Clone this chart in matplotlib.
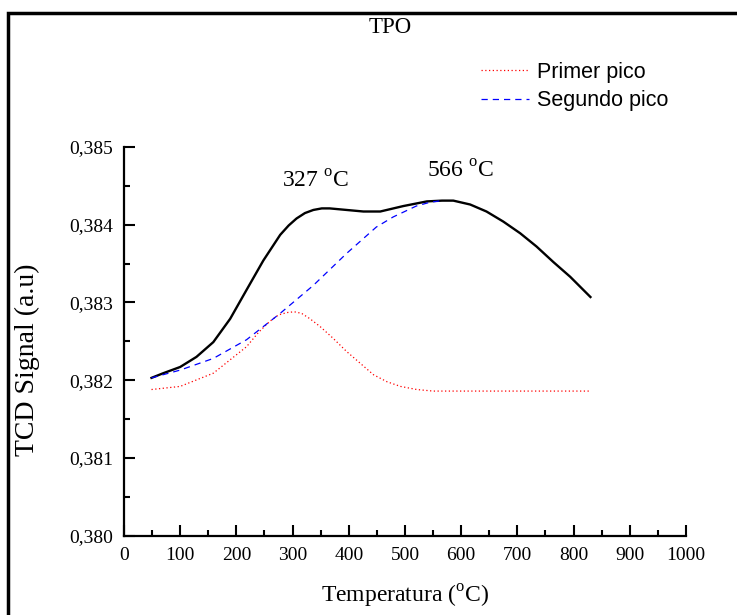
import numpy as np
import matplotlib.pyplot as plt
from matplotlib.patches import Rectangle

plt.rcParams['font.family'] = 'Liberation Serif'
plt.rcParams['mathtext.fontset'] = 'custom'
plt.rcParams['mathtext.rm'] = 'Liberation Serif'

temp_total = [49, 70, 100, 129, 159, 189, 218, 248, 278, 293, 307, 322, 337,
              352, 366, 381, 396, 426, 456, 497, 539, 566, 586, 616, 645, 675,
              705, 734, 764, 794, 830]
tcd_total = [0.38203, 0.38209, 0.38217, 0.38230, 0.38249, 0.38279, 0.38316,
             0.38354, 0.38387, 0.38399, 0.38408, 0.38415, 0.38419, 0.38421,
             0.38421, 0.38420, 0.38419, 0.38417, 0.38417, 0.38424, 0.38430,
             0.38431, 0.38431, 0.38426, 0.38417, 0.38404, 0.38389, 0.38372,
             0.38352, 0.38333, 0.38307]

temp_pico1 = [49, 100, 159, 218, 240, 260, 275, 290, 303, 316, 331, 349, 372,
              396, 420, 444, 468, 492, 521, 550, 829]
tcd_pico1 = [0.38188, 0.38192, 0.38209, 0.38243, 0.38262, 0.38276, 0.38284,
             0.38287, 0.38288, 0.38286, 0.38279, 0.38269, 0.38254, 0.38237,
             0.38222, 0.38207, 0.38198, 0.38192, 0.38188, 0.38186, 0.38186]

temp_pico2 = [49, 100, 159, 218, 278, 337, 396, 449, 479, 520, 545, 566]
tcd_pico2 = [0.38203, 0.38213, 0.38228, 0.38252, 0.38286, 0.38322, 0.38363,
             0.38397, 0.38410, 0.38424, 0.38429, 0.38431]

picos = [327, 566]
pico_pos = [(340, 0.38456), (598, 0.38468)]

fig = plt.figure(figsize=(7.37, 6.15), dpi=100)
ax = fig.add_axes([0.1682, 0.129, 0.7626, 0.632])

ax.plot(temp_total, tcd_total, color='black', lw=1.7)
ax.plot(temp_pico1, tcd_pico1, color='red', lw=0.9, ls=(0, (1, 2)), label='Primer pico')
ax.plot(temp_pico2, tcd_pico2, color='blue', lw=0.9, ls=(0, (5, 4)), label='Segundo pico')

for p, (px, py) in zip(picos, pico_pos):
    ax.text(px, py, f'{p} $^{{\\rm o}}$C', ha='center', va='center', fontsize=17)

ax.set_xlim(0, 1000)
ax.set_ylim(0.380, 0.385)
ax.set_xticks(np.arange(0, 1001, 100))
ax.set_xticks(np.arange(50, 1000, 100), minor=True)
ax.set_yticks(np.arange(0.380, 0.3851, 0.001))
ax.set_yticks(np.arange(0.3805, 0.385, 0.001), minor=True)
ax.set_yticklabels([f'{v:.3f}'.replace('.', ',') for v in np.arange(0.380, 0.3851, 0.001)])
ax.tick_params(which='both', direction='in', labelsize=14, width=1.5, pad=8)
ax.tick_params(which='major', length=8)
ax.tick_params(which='minor', length=4)
for s in ['top', 'right']:
    ax.spines[s].set_visible(False)
for s in ['left', 'bottom']:
    ax.spines[s].set_linewidth(1.6)

ax.set_xlabel('Temperatura ($^{\\rm o}$C)', fontsize=17, labelpad=14)
ax.set_ylabel('TCD Signal (a.u)', fontsize=20)
ax.yaxis.set_label_coords(-0.149, 0.452)

fig.text(0.529, 0.955, 'TPO', ha='center', va='center', fontsize=16.5)

fig.legend(loc='center left', bbox_to_anchor=(0.627, 0.859), frameon=False,
           prop={'family': 'Liberation Sans', 'size': 15.5}, handlelength=2.2,
           handletextpad=0.4, labelspacing=0.35)

# marco de la figura
fig.patches.append(Rectangle((8 / 737, -0.1), 1.2, (615 - 13) / 615 + 0.1,
                             transform=fig.transFigure, fill=False,
                             edgecolor='black', lw=2.5))

fig.savefig('out.png', dpi=100)
